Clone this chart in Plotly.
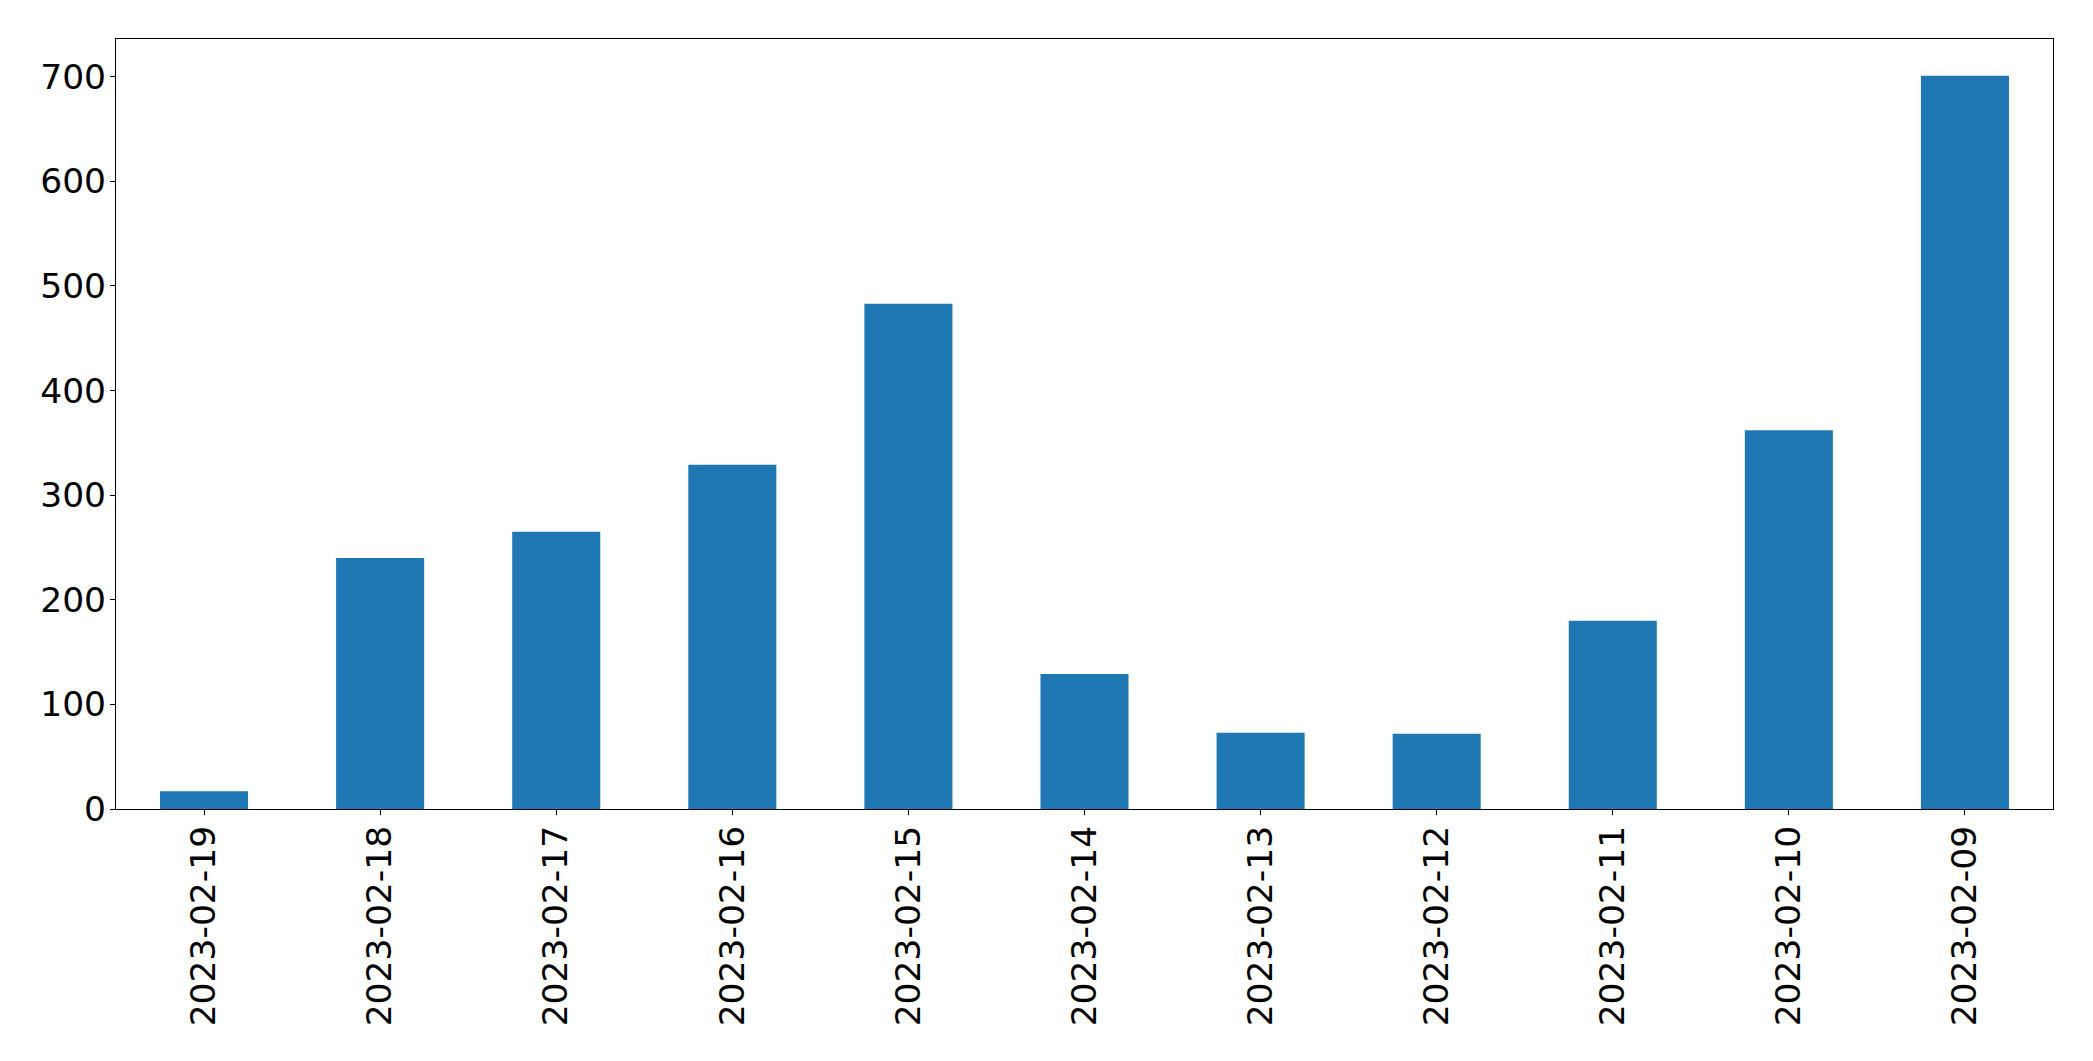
import plotly.graph_objects as go

dates = ["2023-02-19", "2023-02-18", "2023-02-17", "2023-02-16", "2023-02-15",
         "2023-02-14", "2023-02-13", "2023-02-12", "2023-02-11", "2023-02-10", "2023-02-09"]
counts = [17, 240, 265, 329, 483, 129, 73, 72, 180, 362, 701]
y_ticks = [0, 100, 200, 300, 400, 500, 600, 700]

fig = go.Figure(go.Bar(x=dates, y=counts, width=0.5, marker=dict(color="#1f77b4", line=dict(width=0))))

font = dict(family="DejaVu Sans", size=34.5, color="black")
fig.update_layout(
    width=2093, height=1061,
    margin=dict(l=116, r=40, t=39, b=252),
    paper_bgcolor="white", plot_bgcolor="white",
    showlegend=False, font=font,
)
fig.update_xaxes(
    type="category", range=[-0.5, len(dates) - 0.5],
    showline=True, mirror=True, linecolor="black", linewidth=1.1,
    ticks="outside", ticklen=5, tickwidth=1.1, tickcolor="black",
    tickangle=-90, showgrid=False, zeroline=False, tickfont=font,
    ticklabelstandoff=-3,
)
fig.update_yaxes(
    range=[0, 1.05 * max(counts)],
    tickvals=y_ticks,
    showline=True, mirror=True, linecolor="black", linewidth=1.1,
    ticks="outside", ticklen=5, tickwidth=1.1, tickcolor="black",
    showgrid=False, zeroline=False, tickfont=font,
    ticklabelstandoff=-3,
)
fig.write_html("out.html", config={"displayModeBar": False},
               post_script="document.body.style.margin='0';")
